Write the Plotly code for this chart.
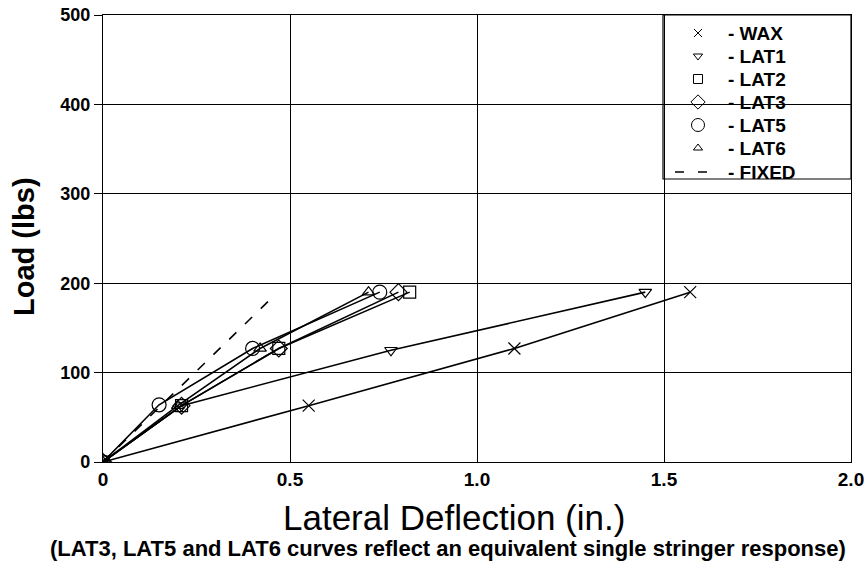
import plotly.graph_objects as go

# Data (deflection in inches, load in lbs)
wax_x = [0, 0.55, 1.10, 1.57]
wax_y = [0, 63, 127, 190]
lat1_x = [0, 0.21, 0.77, 1.45]
lat1_y = [0, 63, 125, 190]
lat2_x = [0, 0.21, 0.47, 0.82]
lat2_y = [0, 63, 127, 190]
lat3_x = [0, 0.21, 0.47, 0.79]
lat3_y = [0, 63, 127, 190]
lat5_x = [0, 0.15, 0.40, 0.74]
lat5_y = [0, 64, 127, 190]
lat6_x = [0, 0.20, 0.42, 0.71]
lat6_y = [0, 63, 127, 190]
fixed_x = [0, 0.45]
fixed_y = [0, 183]

legend_names = ["- WAX", "- LAT1", "- LAT2", "- LAT3", "- LAT5", "- LAT6", "- FIXED"]

x_ticks = [0, 0.5, 1.0, 1.5, 2.0]
x_ticklabels = ["0", "0.5", "1.0", "1.5", "2.0"]
y_ticks = [0, 100, 200, 300, 400, 500]

series = [
    (wax_x, wax_y, "x-thin-open", 12, 8),
    (lat1_x, lat1_y, "triangle-down-open", 11, 8),
    (lat2_x, lat2_y, "square-open", 12, 9),
    (lat3_x, lat3_y, "diamond-open", 13, 11),
    (lat5_x, lat5_y, "circle-open", 14, 13),
    (lat6_x, lat6_y, "triangle-up-open", 11, 8),
]

FONT = "Liberation Sans, Arial, sans-serif"

# plot area in pixels (for the hand-drawn legend box)
L, R, T, B = 103, 851, 15, 462
W, H = R - L, B - T
def px(x):
    return (x - L) / W
def py(y):
    return (B - y) / H

fig = go.Figure()

for xs, ys, sym, sz, _ in series:
    fig.add_trace(go.Scatter(
        x=xs, y=ys, mode="lines+markers", showlegend=False,
        line=dict(color="black", width=1.6),
        marker=dict(symbol=sym, size=sz, color="black",
                    line=dict(color="black", width=1.2)),
    ))

fig.add_trace(go.Scatter(
    x=fixed_x, y=fixed_y, mode="lines", showlegend=False,
    line=dict(color="black", width=1.6, dash="10px,12px"),
))

# legend (drawn on an overlay axis spanning the plot area)
row_y = [33, 56, 79, 102, 125, 148, 172]
sym_x = 698
for i, (xs, ys, sym, sz, lsz) in enumerate(series):
    fig.add_trace(go.Scatter(
        x=[px(sym_x)], y=[py(row_y[i])], xaxis="x2", yaxis="y2",
        mode="markers", showlegend=False, hoverinfo="skip",
        marker=dict(symbol=sym, size=lsz, color="black",
                    line=dict(color="black", width=1)),
    ))
fig.add_trace(go.Scatter(
    x=[px(675), px(707)], y=[py(row_y[6])] * 2, xaxis="x2", yaxis="y2",
    mode="lines", showlegend=False, hoverinfo="skip",
    line=dict(color="black", width=1.5, dash="9px,14px"),
))
for i, name in enumerate(legend_names):
    fig.add_annotation(
        text=name, xref="x2", yref="y2", x=px(727), y=py(row_y[i]),
        xanchor="left", yanchor="middle", showarrow=False,
        borderpad=0,
        font=dict(family=FONT, size=19, color="black", weight="bold"),
    )
fig.add_shape(type="rect", xref="paper", yref="paper",
              x0=px(663), x1=1.0, y0=py(179), y1=1.0,
              line=dict(color="black", width=1.2), fillcolor="white",
              layer="below")

axis_common = dict(
    showline=True, linecolor="black", linewidth=1.2, mirror=True,
    showgrid=True, gridcolor="black", gridwidth=1,
    zeroline=False, tickcolor="black", automargin=False,
    ticklabeloverflow="allow",
)

fig.update_xaxes(range=[0, 2.0], tickvals=x_ticks, ticktext=x_ticklabels,
                 ticks="",
                 tickfont=dict(family=FONT, size=19, color="black", weight="bold"),
                 **axis_common)
fig.update_yaxes(range=[0, 500], tickvals=y_ticks, ticks="outside", ticklen=8,
                 tickfont=dict(family=FONT, size=18, color="black", weight="bold"),
                 **axis_common)

fig.add_annotation(
    text="Load (lbs)", textangle=-90,
    xref="paper", yref="paper", x=(24 - L) / W, y=(B - 247) / H,
    xanchor="center", yanchor="middle", showarrow=False,
    font=dict(family=FONT, size=29, color="black", weight="bold"),
)
fig.add_annotation(
    text="Lateral Deflection (in.)",
    xref="paper", yref="paper", x=0.5, y=(B - 517) / H, xanchor="center", yanchor="middle",
    showarrow=False, font=dict(family=FONT, size=35, color="black"),
    xshift=-23,
)
fig.add_annotation(
    text="(LAT3, LAT5 and LAT6 curves reflect an equivalent single stringer response)",
    xref="paper", yref="paper", x=0.5, y=(B - 548) / H, xanchor="center", yanchor="middle",
    showarrow=False, font=dict(family=FONT, size=22, color="black", weight="bold"),
    xshift=-29,
)

fig.update_layout(
    width=864, height=572,
    margin=dict(l=L, r=864 - R, t=T, b=572 - B, autoexpand=False),
    paper_bgcolor="white", plot_bgcolor="white",
    showlegend=False,
    xaxis2=dict(overlaying="x", range=[0, 1], visible=False, fixedrange=True),
    yaxis2=dict(overlaying="y", range=[0, 1], visible=False, fixedrange=True),
)

fig.write_html("out.html")
